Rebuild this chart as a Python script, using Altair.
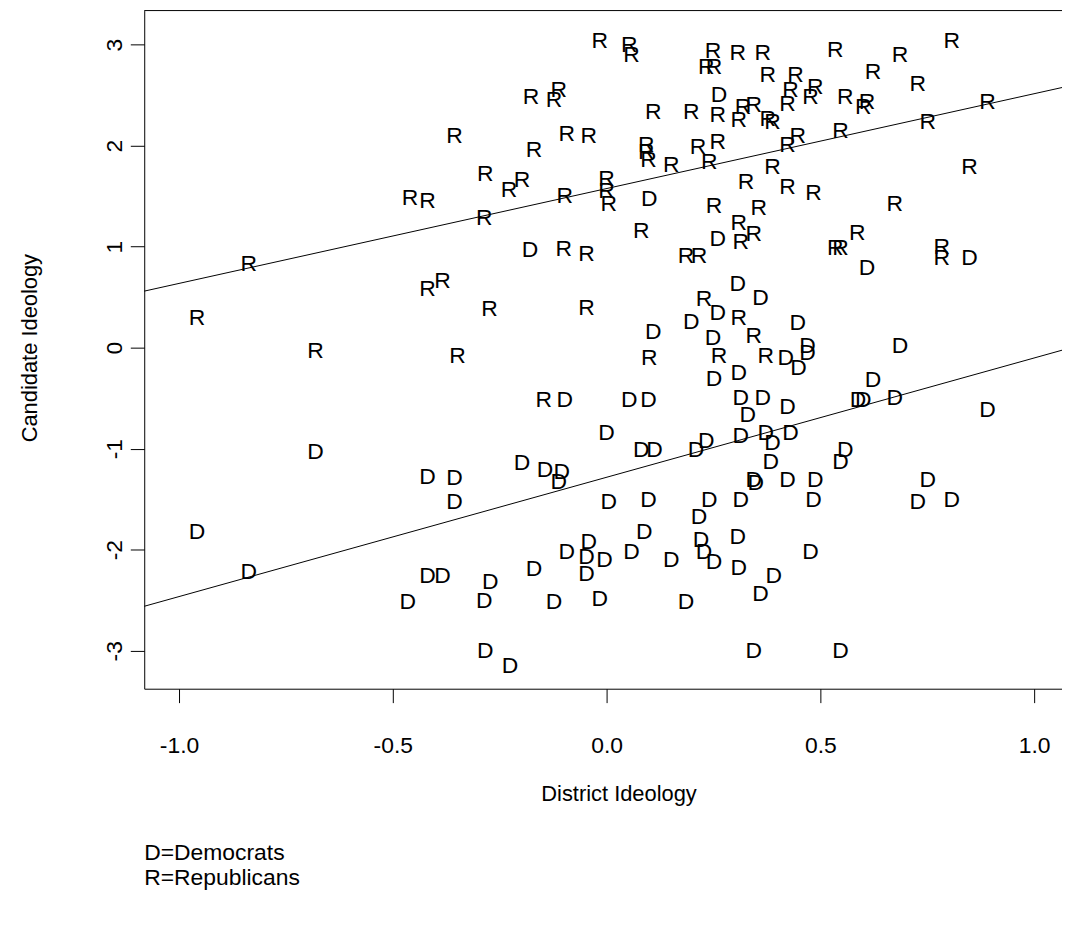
import altair as alt
import pandas as pd

# ---- data ----
r_x = [-0.016, 0.053, 0.058, 0.249, 0.307, 0.365, 0.535, 0.686, 0.807, 0.233,
       0.251, 0.377, 0.442, 0.623, 0.728, 0.430, 0.488, 0.423, 0.477, 0.558,
       0.600, 0.609, 0.377, 0.388, 0.447, 0.423, 0.547, 0.751, 0.891, 0.388,
       0.849, 0.423, 0.484, 0.674, 0.586, 0.535, 0.547, 0.784, 0.784, -0.177,
       -0.123, -0.112, 0.109, 0.198, 0.260, 0.309, 0.319, 0.344, -0.356, -0.093,
       -0.042, -0.170, 0.093, 0.093, 0.098, 0.214, 0.260, 0.151, 0.240, 0.326,
       -0.284, -0.228, -0.198, -0.098, 0.000, 0.000, 0.005, -0.460, -0.419, -0.286,
       0.251, 0.356, 0.081, 0.309, 0.314, 0.344, -0.100, -0.047, 0.186, 0.216,
       -0.837, -0.419, -0.384, -0.958, -0.274, -0.047, 0.228, 0.309, 0.344, -0.681,
       -0.349, 0.100, 0.263, 0.372, -0.147]
r_y = [3.04, 3.00, 2.90, 2.94, 2.92, 2.92, 2.95, 2.90, 3.04, 2.78,
       2.78, 2.70, 2.70, 2.73, 2.61, 2.55, 2.58, 2.41, 2.48, 2.48,
       2.38, 2.43, 2.26, 2.23, 2.09, 2.01, 2.14, 2.23, 2.43, 1.79,
       1.79, 1.59, 1.53, 1.42, 1.13, 0.99, 0.99, 1.00, 0.89, 2.48,
       2.45, 2.55, 2.33, 2.33, 2.30, 2.25, 2.38, 2.40, 2.09, 2.11,
       2.09, 1.96, 2.01, 1.94, 1.86, 1.99, 2.04, 1.81, 1.84, 1.64,
       1.72, 1.56, 1.66, 1.50, 1.67, 1.55, 1.42, 1.48, 1.45, 1.28,
       1.40, 1.38, 1.15, 1.23, 1.05, 1.12, 0.98, 0.93, 0.91, 0.91,
       0.83, 0.58, 0.66, 0.29, 0.38, 0.39, 0.48, 0.29, 0.12, -0.03,
       -0.08, -0.10, -0.08, -0.08, -0.52]

d_x = [0.263, 0.100, 0.260, -0.179, 0.849, 0.609, 0.307, 0.360, 0.260, 0.198,
       0.109, 0.249, 0.686, 0.447, 0.470, 0.419, 0.449, 0.470, 0.309, 0.251,
       0.623, -0.098, 0.053, 0.098, 0.314, 0.365, 0.330, 0.423, 0.588, 0.600,
       0.674, 0.891, -0.681, 0.000, 0.233, 0.209, 0.314, 0.372, 0.388, 0.430,
       0.081, 0.112, -0.198, -0.144, -0.105, -0.112, 0.344, -0.419, -0.356, -0.356,
       0.005, 0.098, 0.240, 0.314, 0.384, 0.558, 0.547, 0.423, 0.488, 0.484,
       0.751, 0.728, 0.807, -0.958, -0.837, -0.419, -0.384, -0.465, 0.216, 0.307,
       -0.042, -0.047, -0.047, -0.093, 0.088, 0.058, -0.005, 0.151, 0.221, 0.228,
       0.251, 0.309, -0.272, -0.286, -0.170, -0.123, -0.016, 0.186, 0.360, -0.284,
       -0.226, 0.344, 0.477, 0.391, 0.547, 0.349]
d_y = [2.50, 1.47, 1.08, 0.97, 0.89, 0.79, 0.63, 0.49, 0.34, 0.25,
       0.15, 0.10, 0.02, 0.24, 0.02, -0.10, -0.20, -0.05, -0.25, -0.31,
       -0.32, -0.52, -0.52, -0.52, -0.50, -0.50, -0.67, -0.59, -0.52, -0.52,
       -0.50, -0.62, -1.03, -0.85, -0.92, -1.01, -0.87, -0.85, -0.94, -0.85,
       -1.01, -1.01, -1.14, -1.21, -1.23, -1.33, -1.31, -1.28, -1.29, -1.53,
       -1.53, -1.51, -1.51, -1.51, -1.13, -1.01, -1.13, -1.31, -1.31, -1.51,
       -1.31, -1.53, -1.51, -1.83, -2.22, -2.26, -2.26, -2.52, -1.68, -1.87,
       -1.92, -2.07, -2.24, -2.02, -1.83, -2.02, -2.10, -2.10, -1.90, -2.02,
       -2.12, -2.18, -2.32, -2.51, -2.19, -2.52, -2.49, -2.52, -2.44, -3.00,
       -3.15, -3.00, -2.02, -2.26, -3.00, -1.34]

# fitted lines (abline): party, intercept, slope
fit_party = ["R", "D"]
fit_intercept = [1.575, -1.283]
fit_slope = [0.939, 1.181]

x_ticks = [-1.0, -0.5, 0.0, 0.5, 1.0]
y_ticks = [-3, -2, -1, 0, 1, 2, 3]
legend_lines = ["D=Democrats", "R=Republicans"]
x_title = "District Ideology"
y_title = "Candidate Ideology"

# ---- layout ----
W, H = 923, 682
XDOM = [-1.0814, 1.0651]
YDOM = [-3.376, 3.337]
FONT = "Liberation Sans"

pts = pd.DataFrame(
    {"x": r_x + d_x, "y": r_y + d_y, "party": ["R"] * len(r_x) + ["D"] * len(d_x)}
)

line_rows = []
for p, a, b in zip(fit_party, fit_intercept, fit_slope):
    for xv in (XDOM[0] - 0.05, XDOM[1] + 0.05):
        line_rows.append({"party": p, "x": xv, "y": a + b * xv})
lines_df = pd.DataFrame(line_rows)

xscale = alt.Scale(domain=XDOM, nice=False, zero=False)
yscale = alt.Scale(domain=YDOM, nice=False, zero=False)

xaxis = alt.Axis(
    values=x_ticks,
    labelExpr="(datum.value < 0 ? '-' : '') + format(abs(datum.value), '.1f')",
    title=x_title,
    grid=False,
    domainColor="black", domainWidth=1,
    tickColor="black", tickWidth=1, tickSize=14,
    labelFont=FONT, labelFontSize=23, labelColor="black",
    labelBaseline="middle", labelPadding=43, labelFlush=False, labelOverlap=False,
    titleFont=FONT, titleFontSize=22, titleFontWeight="normal", titleColor="black",
    titleX=477, titleY=105, titleBaseline="middle", titleAlign="center",
)
yaxis = alt.Axis(
    values=y_ticks,
    labelExpr="(datum.value < 0 ? '-' : '') + format(abs(datum.value), 'd')",
    title=y_title,
    grid=False,
    domainColor="black", domainWidth=1,
    tickColor="black", tickWidth=1, tickSize=14,
    labelFont=FONT, labelFontSize=23, labelColor="black",
    labelAngle=270, labelAlign="center", labelBaseline="middle",
    labelPadding=16, labelFlush=False, labelOverlap=False,
    titleFont=FONT, titleFontSize=22, titleFontWeight="normal", titleColor="black",
    titleAngle=270, titleX=-115, titleY=339, titleBaseline="middle", titleAlign="center",
)

letters = alt.Chart(pts).mark_text(
    font=FONT, fontSize=23, align="center", baseline="middle", color="black"
).encode(
    x=alt.X("x:Q", scale=xscale, axis=xaxis),
    y=alt.Y("y:Q", scale=yscale, axis=yaxis),
    text="party:N",
)

fits = alt.Chart(lines_df).mark_line(color="black", strokeWidth=1, clip=True).encode(
    x=alt.X("x:Q", scale=xscale),
    y=alt.Y("y:Q", scale=yscale),
    detail="party:N",
)

top_frame = alt.Chart(pd.DataFrame({"k": [0]})).mark_rule(color="black", strokeWidth=1).encode(
    x=alt.value(0), x2=alt.value(W), y=alt.value(0)
)

legend1 = alt.Chart(pd.DataFrame({"t": [legend_lines[0]]})).mark_text(
    font=FONT, fontSize=23, align="left", baseline="middle", color="black"
).encode(x=alt.value(0), y=alt.value(847), text="t:N")
legend2 = alt.Chart(pd.DataFrame({"t": [legend_lines[1]]})).mark_text(
    font=FONT, fontSize=23, align="left", baseline="middle", color="black"
).encode(x=alt.value(0), y=alt.value(872), text="t:N")

chart = alt.layer(fits, letters, top_frame, legend1, legend2).properties(
    width=W, height=H,
    autosize=alt.AutoSizeParams(type="none"),
    padding={"left": 137, "top": 0, "right": 0, "bottom": 225},
    background="white",
).configure_view(stroke=None)

chart.save("out.html", embed_options={"renderer": "svg", "actions": False})
